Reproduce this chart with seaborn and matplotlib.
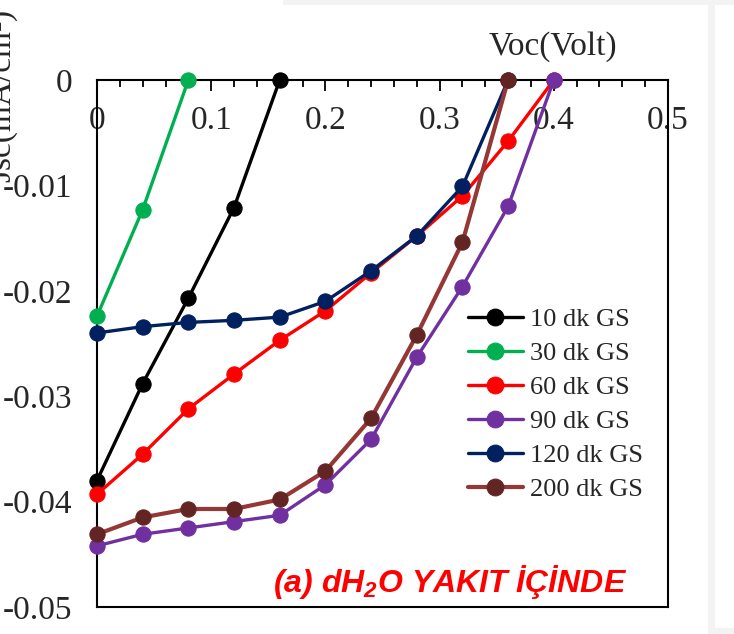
import matplotlib
matplotlib.use("Agg")
import matplotlib.pyplot as plt
import seaborn as sns
import pandas as pd
from matplotlib.patches import Rectangle
from matplotlib.ticker import MultipleLocator

# ---- data ----
voc = [0.00, 0.04, 0.08, 0.12, 0.16, 0.20, 0.24, 0.28, 0.32, 0.36, 0.40]
jsc_10 = [-0.0380, -0.0288, -0.0207, -0.0121, 0.0]
jsc_30 = [-0.0224, -0.0123, 0.0]
jsc_60 = [-0.0393, -0.0355, -0.0312, -0.0279, -0.0247, -0.0219, -0.0183, -0.0148, -0.0110, -0.0058, 0.0]
jsc_90 = [-0.0442, -0.0431, -0.0425, -0.0419, -0.0413, -0.0384, -0.0341, -0.0263, -0.0196, -0.0120, 0.0]
jsc_120 = [-0.0240, -0.0234, -0.0230, -0.0228, -0.0225, -0.0210, -0.0181, -0.0148, -0.0101, 0.0]
jsc_200 = [-0.0431, -0.0415, -0.0407, -0.0407, -0.0398, -0.0371, -0.0321, -0.0242, -0.0154, 0.0]
series_names = ["10 dk GS", "30 dk GS", "60 dk GS", "90 dk GS", "120 dk GS", "200 dk GS"]
series_vals = [jsc_10, jsc_30, jsc_60, jsc_90, jsc_120, jsc_200]
line_colors = ["#000000", "#00B050", "#FF0000", "#7030A0", "#002060", "#953735"]
marker_colors = ["#000000", "#00B050", "#FF0000", "#7030A0", "#002060", "#632523"]
x_ticks = [0, 0.1, 0.2, 0.3, 0.4, 0.5]
x_tick_labels = ["0", "0.1", "0.2", "0.3", "0.4", "0.5"]
y_ticks = [0, -0.01, -0.02, -0.03, -0.04, -0.05]
y_tick_labels = ["0", "-0.01", "-0.02", "-0.03", "-0.04", "-0.05"]

rows = []
for name, vals in zip(series_names, series_vals):
    for x, y in zip(voc, vals):
        rows.append({"Voc": x, "Jsc": y, "series": name})
df = pd.DataFrame(rows)

sns.set_style("white")
plt.rcParams["font.family"] = ["Liberation Serif", "DejaVu Serif"]
plt.rcParams["mathtext.fontset"] = "custom"
plt.rcParams["mathtext.rm"] = "Liberation Sans:bold:italic"
plt.rcParams["mathtext.it"] = "Liberation Sans:bold:italic"
plt.rcParams["mathtext.bf"] = "Liberation Sans:bold:italic"

fig = plt.figure(figsize=(7.34, 6.34), dpi=100)
fig.patch.set_facecolor("white")
# light gray page frame
fig.patches.append(Rectangle((283 / 734, 1 - 5 / 634), 1, 5 / 634, transform=fig.transFigure,
                             facecolor="#f3f3f3", edgecolor="none", zorder=0))
fig.patches.append(Rectangle((708 / 734, 0), 7 / 734, 1, transform=fig.transFigure,
                             facecolor="#f3f3f3", edgecolor="none", zorder=0))
fig.patches.append(Rectangle((715 / 734, 0), 1, 6 / 634, transform=fig.transFigure,
                             facecolor="#f3f3f3", edgecolor="none", zorder=0))

ax = fig.add_axes([97 / 734, 1 - 607 / 634, (668 - 97) / 734, (607 - 80) / 634])

for name, lc, mc in zip(series_names, line_colors, marker_colors):
    sub = df[df["series"] == name]
    lw = 3.0 if name == "200 dk GS" else 2.4
    sns.lineplot(data=sub, x="Voc", y="Jsc", ax=ax, color=lc, linewidth=lw,
                 marker="o", markersize=11, markerfacecolor=mc, markeredgecolor=mc,
                 label=name, sort=False, estimator=None, clip_on=False, zorder=3)

ax.set_xlim(0, 0.5)
ax.set_ylim(-0.05, 0)
ax.set_xticks(x_ticks)
ax.set_xticklabels(x_tick_labels)
ax.xaxis.set_minor_locator(MultipleLocator(0.02))
ax.set_yticks(y_ticks)
ax.set_yticklabels(y_tick_labels)
ax.tick_params(axis="x", which="both", top=True, bottom=False, labeltop=True,
               labelbottom=False, direction="in", labelsize=24, pad=-40, width=1.3, color="black")
ax.tick_params(axis="x", which="major", length=8)
ax.tick_params(axis="x", which="minor", length=5)
ax.tick_params(axis="y", left=False, labelsize=24, pad=18, length=0)
for s in ax.spines.values():
    s.set_color("black")
    s.set_linewidth(1.5)
ax.set_xlabel("")
ax.set_ylabel("")
ax.grid(False)

fig.text(553 / 734, 1 - 47 / 634, "Voc(Volt)", ha="center", va="center", fontsize=24)
fig.text(2 / 734, 1 - 95 / 634, "Jsc(mA/cm²)", ha="center", va="center", rotation=90, fontsize=24)

fig.text(450 / 734, 1 - 582 / 634, r"(a) dH$_2$O YAKIT İÇİNDE", ha="center", va="center",
         fontsize=23, color="#FF0000", family="Liberation Sans", fontweight="bold", style="italic")

leg = ax.legend(loc="upper left", bbox_to_anchor=((457 - 97) / 571, 1 - (297 - 80) / 527),
                frameon=False, fontsize=19, handlelength=2.1, handletextpad=0.25,
                labelspacing=0.4, borderaxespad=0, markerscale=1.1)

fig.savefig("out.png", dpi=100, facecolor="white")
